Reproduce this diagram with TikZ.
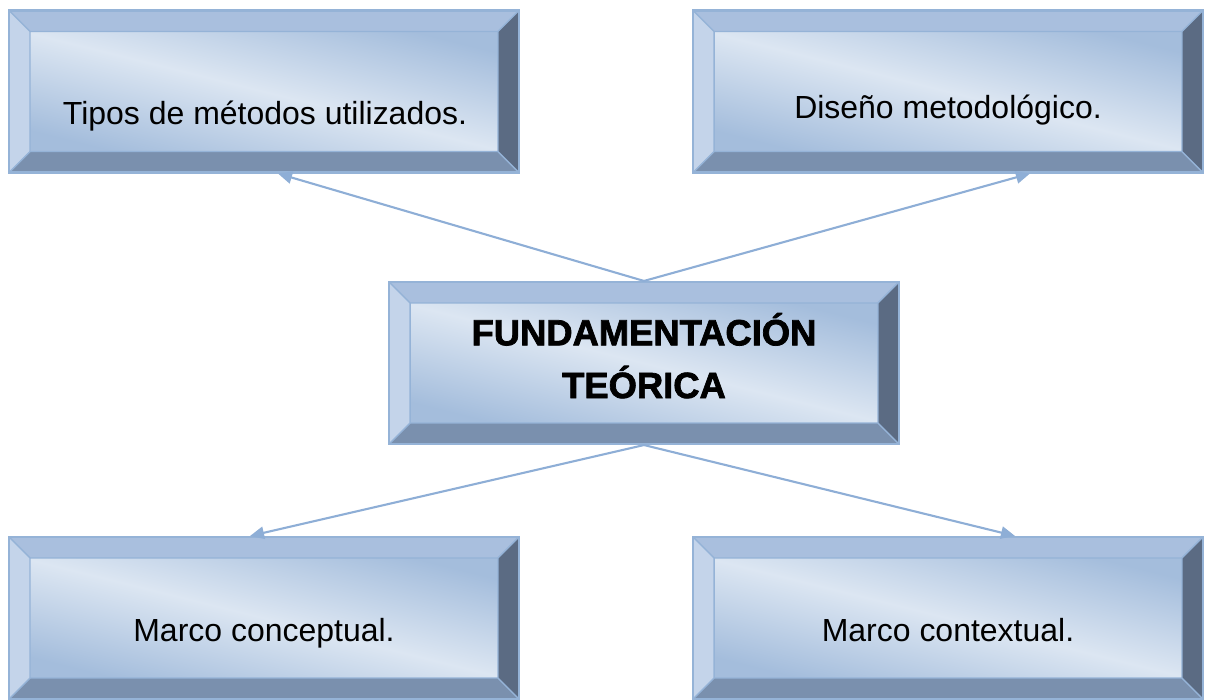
\documentclass[tikz,border=0pt]{standalone}
\usepackage{fontspec}
\setmainfont{Liberation Sans}
\newfontfamily\heavyfont[FakeBold=2]{Liberation Sans Bold}
\usepackage{xcolor}
\usetikzlibrary{shapes,backgrounds,positioning,calc,arrows.meta}

\definecolor{bevtop}{HTML}{A9BFDE}
\definecolor{bevleft}{HTML}{C4D4EA}
\definecolor{bevright}{HTML}{5B6B83}
\definecolor{bevbottom}{HTML}{7A90AE}
\definecolor{bevline}{HTML}{95B3D7}
\definecolor{facelight}{HTML}{DCE6F2}
\definecolor{facedark}{HTML}{A4BDDC}
\definecolor{arrowblue}{HTML}{8EAED6}

\def\bev{0.42cm}

\tikzset{
  bevelbox/.style={rectangle, minimum width=10.2cm, minimum height=3.24cm,
    inner sep=0pt, draw=bevline, line width=1.2pt,
    path picture={
      \coordinate (nw) at (path picture bounding box.north west);
      \coordinate (ne) at (path picture bounding box.north east);
      \coordinate (sw) at (path picture bounding box.south west);
      \coordinate (se) at (path picture bounding box.south east);
      \coordinate (inw) at ([shift={(\bev,-\bev)}]nw);
      \coordinate (ine) at ([shift={(-\bev,-\bev)}]ne);
      \coordinate (isw) at ([shift={(\bev,\bev)}]sw);
      \coordinate (ise) at ([shift={(-\bev,\bev)}]se);
      \fill[bevtop] (nw) -- (ne) -- (ine) -- (inw) -- cycle;
      \fill[bevleft] (nw) -- (inw) -- (isw) -- (sw) -- cycle;
      \fill[bevright] (ne) -- (se) -- (ise) -- (ine) -- cycle;
      \fill[bevbottom] (sw) -- (isw) -- (ise) -- (se) -- cycle;
      \shade[top color=facedark, bottom color=facedark,
        middle color=facelight, shading angle=-14] (inw) rectangle (ise);
      \draw[bevline, line width=0.8pt] (inw) rectangle (ise)
        (nw) -- (inw) (ne) -- (ine) (sw) -- (isw) (se) -- (ise);
    }},
  boxtext/.style={anchor=base, inner sep=0pt,
    font=\fontsize{18.2pt}{22pt}\selectfont},
  link/.style={draw=arrowblue, line width=1.2pt,
    -{Triangle[length=8pt,width=7pt]}}
}

\begin{document}
\begin{tikzpicture}[x=0.02cm, y=-0.02cm]
    \useasboundingbox (0,0) rectangle (1208,700);

    % boxes
    \node[bevelbox] (tipos) at (264,91.5) {};
    \node[bevelbox] (diseno) at (948,91.5) {};
    \node[bevelbox] (fund) at (644,363) {};
    \node[bevelbox] (conceptual) at (264,618) {};
    \node[bevelbox] (contextual) at (948,618) {};

    % texts
    \node[boxtext] (tipostxt) at (265,124) {Tipos de métodos utilizados.};
    \node[boxtext] (disenotxt) at (948,118) {Diseño metodológico.};
    \node[boxtext] (concepttxt) at (264,641) {Marco conceptual.};
    \node[boxtext] (contexttxt) at (948,641) {Marco contextual.};
    \node[anchor=base, inner sep=0pt, align=center,
      font=\heavyfont\fontsize{20.7pt}{30pt}\selectfont]
      (fundtxt) at (644,398) {FUNDAMENTACIÓN\\TEÓRICA};

    % arrows
    \draw[link] (fund.north) -- ([xshift=0.28cm]tipos.south);
    \draw[link] (fund.north) -- ([xshift=1.64cm]diseno.south);
    \draw[link] (fund.south) -- ([xshift=-0.28cm]conceptual.north);
    \draw[link] (fund.south) -- ([xshift=1.34cm]contextual.north);
\end{tikzpicture}
\end{document}
